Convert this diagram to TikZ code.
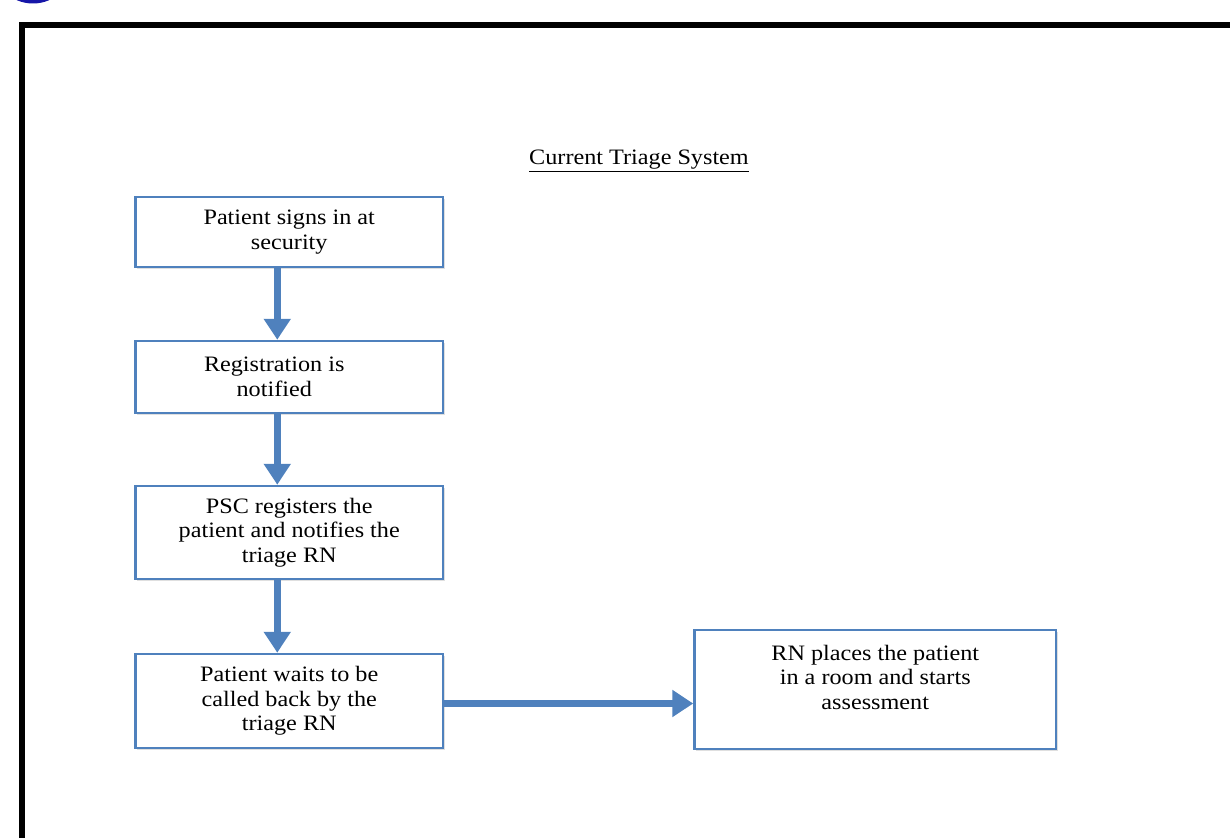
\documentclass[tikz,border=0pt]{standalone}
\usepackage{fontspec}
\setmainfont{Liberation Serif}[FakeStretch=1.1]
\usepackage{xcolor}
\usetikzlibrary{arrows.meta,shadows}

\definecolor{boxblue}{RGB}{79,129,189}
\definecolor{dotblue}{RGB}{22,22,168}

\tikzset{
    stepbox/.style={draw=boxblue, line width=2.5pt, fill=white, align=center,
        minimum width=307.5pt, font=\fontsize{22}{24.5}\selectfont,
        drop shadow={shadow xshift=1.5pt, shadow yshift=-2pt, opacity=0.25}},
    flow/.style={draw=boxblue, line width=6.5pt, -{Triangle[length=21pt,width=26pt]}}
}

\begin{document}
\begin{tikzpicture}[x=1pt, y=-1pt]
    \useasboundingbox (0,0) rectangle (1230,837);
    \clip (0,0) rectangle (1230,837);
    \fill[dotblue] (33,-37) circle (40.5);
    \draw[line width=6pt] (22,25) rectangle (1270,880); % page frame

    \node[font=\fontsize{22}{24.5}\selectfont] (title) at (639,161) {\underline{Current Triage System}};

    \node[stepbox, minimum height=70pt] (sign) at (289.25,232) {Patient signs in at\\security};
    \node[stepbox, minimum height=72pt] (reg) at (289.25,377) {Registration is\hspace*{30pt}\\notified\hspace*{30pt}};
    \node[stepbox, minimum height=93pt] (psc) at (289.25,532.5) {PSC registers the\\patient and notifies the\\triage RN};
    \node[stepbox, minimum height=94pt] (wait) at (289.25,701) {Patient waits to be\\called back by the\\triage RN};
    \node[stepbox, minimum width=361.5pt, minimum height=119pt] (room) at (875.25,689.5) {RN places the patient\\in a room and starts\\assessment\\\mbox{}};

    \draw[flow] ([xshift=-12pt]sign.south) -- ([xshift=-12pt]reg.north);
    \draw[flow] ([xshift=-12pt]reg.south) -- ([xshift=-12pt]psc.north);
    \draw[flow] ([xshift=-12pt]psc.south) -- ([xshift=-12pt]wait.north);
    \draw[flow] ([yshift=-2.5pt]wait.east) -- ([yshift=-2.5pt]wait.east -| room.west);

\end{tikzpicture}
\end{document}
